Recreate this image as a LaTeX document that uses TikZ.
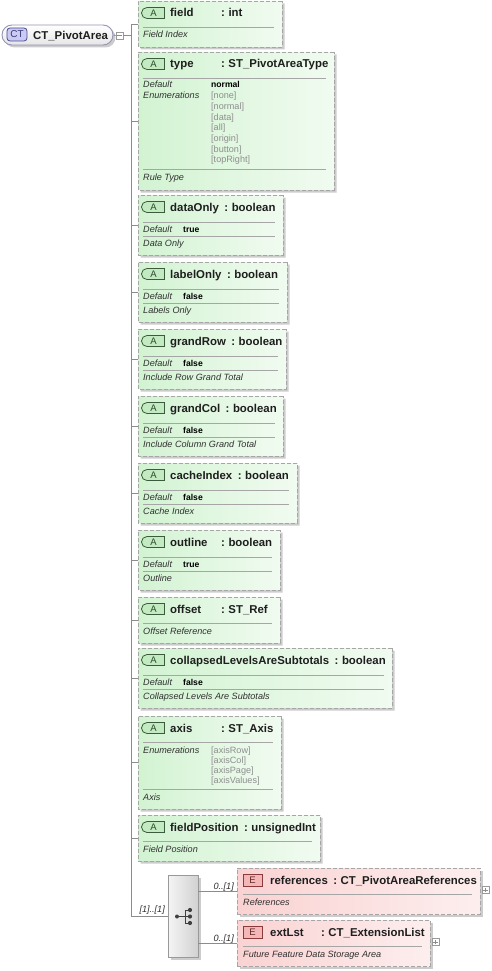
\documentclass[tikz,border=0pt]{standalone}
\usepackage{fontspec}
\setmainfont{Liberation Sans}
\usetikzlibrary{shapes.misc,shadows}

\definecolor{connc}{HTML}{8C8C8C}
\definecolor{bordc}{HTML}{A6A6A6}
\definecolor{agL}{HTML}{D2F3D2}
\definecolor{agR}{HTML}{F1FBF1}
\definecolor{abF}{HTML}{C2EBC2}
\definecolor{abD}{HTML}{3C5A3C}
\definecolor{epL}{HTML}{FAD2D2}
\definecolor{epR}{HTML}{FDEEEE}
\definecolor{ebF}{HTML}{F4B6B6}
\definecolor{ebD}{HTML}{8A3A3A}
\definecolor{ctF}{HTML}{CACAF2}
\definecolor{ctD}{HTML}{4A4A96}
\definecolor{ctB}{HTML}{9494B4}
\definecolor{enumc}{HTML}{8E8E8E}
\definecolor{txtc}{HTML}{1E1E1E}
\definecolor{dtxt}{HTML}{303030}

\tikzset{
  conn/.style={draw=connc, line width=0.9pt},
  sepl/.style={draw=bordc, line width=0.8pt},
  shad/.style={drop shadow={shadow xshift=2.5pt, shadow yshift=-2.5pt, fill=black, opacity=0.2}},
  attr/.style={chamfered rectangle, chamfered rectangle corners={north west,south west},
    chamfered rectangle sep=4pt, inner sep=0pt, draw=bordc, line width=0.9pt,
    dash pattern=on 4pt off 2pt, left color=agL, right color=agR, shad},
  elem/.style={rectangle, inner sep=0pt, draw=bordc, line width=0.9pt,
    dash pattern=on 4pt off 2pt, left color=epL, right color=epR, shad},
  seqbox/.style={rectangle, inner sep=0pt, draw=black!40, line width=0.8pt,
    left color=black!4, right color=black!18, shad},
  ctnode/.style={rectangle, rounded corners=10pt, inner sep=0pt, draw=ctB, line width=0.9pt,
    top color=white, bottom color=black!10, shad},
  ctbadge/.style={rectangle, rounded corners=3pt, minimum width=20pt, minimum height=13pt,
    inner sep=0pt, draw=ctD, line width=0.8pt, fill=ctF, text=ctD!80!black,
    font=\fontsize{10}{11}\selectfont},
  abadge/.style={rounded rectangle, rounded rectangle right arc=none, minimum width=23pt,
    minimum height=11pt, inner sep=0pt, draw=abD, line width=0.8pt, fill=abF,
    text=abD!80!black, font=\fontsize{9.5}{10}\selectfont},
  ebadge/.style={rectangle, minimum width=19pt, minimum height=12pt, inner sep=0pt,
    draw=ebD, line width=0.8pt, fill=ebF, text=ebD!70!black, font=\fontsize{9.5}{10}\selectfont},
  expbox/.style={rectangle, minimum size=7pt, inner sep=0pt, draw=black!40, fill=white, line width=0.7pt},
  ttext/.style={anchor=base west, inner sep=0pt, text=txtc, font=\fontsize{11.4}{13}\selectfont\bfseries},
  itext/.style={anchor=base west, inner sep=0pt, text=dtxt, font=\fontsize{9.1}{10}\selectfont\itshape},
  btext/.style={anchor=base west, inner sep=0pt, text=black, font=\fontsize{8.6}{10}\selectfont\bfseries},
  etext/.style={anchor=base west, inner sep=0pt, text=enumc, font=\fontsize{9.1}{10}\selectfont},
  icon/.style={draw=black!75, line width=1pt},
  dotc/.style={fill=black!75},
}

\newcommand\xttl[2]{\sbox0{#1}\ifdim\wd0<45pt\makebox[51pt][l]{#1}\else\usebox0\hspace{5.5pt}\fi:\hspace{3.5pt}#2}

\newcommand\attrdef[7]{%
  \pgfmathsetmacro\bw{#3-138}%
  \pgfmathsetmacro\bx{(138+#3)/2}%
  \node[attr,minimum width=\bw pt,minimum height=60pt] (#1) at (\bx,#2+30) {};
  \draw[conn] (#1.west -| tr) -- (#1.west);
  \node[abadge] (#1-b) at (153.5,#2+12) {A};
  \node[ttext] (#1-t) at (170,#2+16) {\xttl{#4}{#5}};
  \draw[sepl] (143,#2+27) -- (#3-8,#2+27);
  \node[itext] (#1-k) at (143,#2+37) {Default};
  \node[btext] (#1-v) at (183,#2+37) {#6};
  \draw[sepl] (143,#2+41) -- (#3-8,#2+41);
  \node[itext] (#1-d) at (143,#2+51) {#7};
}

\newcommand\attrnd[6]{%
  \pgfmathsetmacro\bw{#3-138}%
  \pgfmathsetmacro\bx{(138+#3)/2}%
  \node[attr,minimum width=\bw pt,minimum height=46pt] (#1) at (\bx,#2+23) {};
  \draw[conn] (#1.west -| tr) -- (#1.west);
  \node[abadge] (#1-b) at (153.5,#2+12) {A};
  \node[ttext] (#1-t) at (170,#2+16) {\xttl{#4}{#5}};
  \draw[sepl] (143,#2+26) -- (#3-8,#2+26);
  \node[itext] (#1-d) at (143,#2+37) {#6};
}

\newcommand\elembox[6]{%
  \pgfmathsetmacro\bw{#3-237}%
  \pgfmathsetmacro\bx{(237+#3)/2}%
  \node[elem,minimum width=\bw pt,minimum height=46pt] (#1) at (\bx,#2+23) {};
  \draw[conn] (#1.west -| seq.east) -- (#1.west);
  \node[ebadge] (#1-b) at (252.5,#2+12) {E};
  \node[ttext] (#1-t) at (270,#2+16) {\xttl{#4}{#5}};
  \draw[sepl] (243,#2+26) -- (#3-8,#2+26);
  \node[itext] (#1-d) at (243,#2+37) {#6};
  \node[expbox] (#1-x) at (#3+5.5,#2+22) {};
  \draw[draw=black!45, line width=0.7pt] ([xshift=1.5pt]#1-x.west) -- ([xshift=-1.5pt]#1-x.east);
  \draw[draw=black!45, line width=0.7pt] ([yshift=1.5pt]#1-x.south) -- ([yshift=-1.5pt]#1-x.north);
  \node[itext, anchor=base east] (#1-m) at (234,#2+21.5) {0..[1]};
}

\begin{document}
\begin{tikzpicture}[x=1pt,y=-1pt]
\fill[white] (0,0) rectangle (491,971);
\useasboundingbox (0,0) rectangle (491,971);

% trunk
\coordinate (tr) at (131,24);
\coordinate (tb) at (131,916);
\draw[conn] (tr) -- (tb);

% root
\node[ctnode, minimum width=111pt, minimum height=20pt] (ct) at (57.5,35) {};
\node[ctbadge] (ctb) at (17,34.5) {CT};
\node[ttext] (ctt) at (33,39.5) {CT\_PivotArea};
\node[expbox] (mn) at (119.5,35.5) {};
\draw[conn] (ct.east) -- (mn.west);
\draw[conn] (mn.east) -- (mn.east -| tr);
\draw[draw=black!45, line width=0.7pt] ([xshift=1.5pt]mn.west) -- ([xshift=-1.5pt]mn.east);

% attributes
\attrnd{field}{1}{282}{field}{int}{Field Index}

% type
\node[attr,minimum width=196pt,minimum height=138pt] (type) at (236,121) {};
\draw[conn] (type.west -| tr) -- (type.west);
\node[abadge] (type-b) at (153.5,64) {A};
\node[ttext] (type-t) at (170,68) {\xttl{type}{ST\_PivotAreaType}};
\draw[sepl] (143,78) -- (326,78);
\node[itext] (type-k) at (143,88) {Default};
\node[btext] (type-v) at (211,88) {normal};
\node[itext] (type-e) at (143,99) {Enumerations};
\node[etext] (type-e1) at (211,99) {[none]};
\node[etext] (type-e2) at (211,109.6) {[normal]};
\node[etext] (type-e3) at (211,120.2) {[data]};
\node[etext] (type-e4) at (211,130.8) {[all]};
\node[etext] (type-e5) at (211,141.4) {[origin]};
\node[etext] (type-e6) at (211,152) {[button]};
\node[etext] (type-e7) at (211,162.6) {[topRight]};
\draw[sepl] (143,169) -- (326,169);
\node[itext] (type-d) at (143,180) {Rule Type};

\attrdef{dataOnly}{195}{283}{dataOnly}{boolean}{true}{Data Only}
\attrdef{labelOnly}{262}{287}{labelOnly}{boolean}{false}{Labels Only}
\attrdef{grandRow}{329}{286}{grandRow}{boolean}{false}{Include Row Grand Total}
\attrdef{grandCol}{396}{283}{grandCol}{boolean}{false}{Include Column Grand Total}
\attrdef{cacheIndex}{463}{297}{cacheIndex}{boolean}{false}{Cache Index}
\attrdef{outline}{530}{280}{outline}{boolean}{true}{Outline}
\attrnd{offset}{597}{280}{offset}{ST\_Ref}{Offset Reference}
\attrdef{collapsed}{648}{392}{collapsedLevelsAreSubtotals}{boolean}{false}{Collapsed Levels Are Subtotals}

% axis
\node[attr,minimum width=143pt,minimum height=93pt] (axis) at (209.5,762.5) {};
\draw[conn] (axis.west -| tr) -- (axis.west);
\node[abadge] (axis-b) at (153.5,728) {A};
\node[ttext] (axis-t) at (170,732) {\xttl{axis}{ST\_Axis}};
\draw[sepl] (143,742) -- (273,742);
\node[itext] (axis-e) at (143,753) {Enumerations};
\node[etext] (axis-e1) at (211,753) {[axisRow]};
\node[etext] (axis-e2) at (211,763) {[axisCol]};
\node[etext] (axis-e3) at (211,773) {[axisPage]};
\node[etext] (axis-e4) at (211,783) {[axisValues]};
\draw[sepl] (143,789) -- (273,789);
\node[itext] (axis-d) at (143,800) {Axis};

\attrnd{fieldPosition}{815}{320}{fieldPosition}{unsignedInt}{Field Position}

% sequence
\node[seqbox, minimum width=30pt, minimum height=82pt] (seq) at (183,916) {};
\draw[conn] (tb) -- (seq.west);
\node[itext, anchor=base east] (seqm) at (165,912.5) {[1]..[1]};
\coordinate (sq0) at (177,916.5);
\coordinate (sq1) at (185,916.5);
\coordinate (sqa) at (190,910);
\coordinate (sqb) at (190,916.5);
\coordinate (sqc) at (190,923);
\draw[icon] (sq0) -- (sq1);
\draw[icon] (sq1 |- sqa) -- (sq1 |- sqc);
\draw[icon] (sq1 |- sqa) -- (sqa);
\draw[icon] (sq1) -- (sqb);
\draw[icon] (sq1 |- sqc) -- (sqc);
\fill[dotc] (sq0) circle (2pt);
\fill[dotc] (sqa) circle (2.1pt);
\fill[dotc] (sqb) circle (2.1pt);
\fill[dotc] (sqc) circle (2.1pt);

% elements
\elembox{references}{868}{480}{references}{CT\_PivotAreaReferences}{References}
\elembox{extLst}{920}{430}{extLst}{CT\_ExtensionList}{Future Feature Data Storage Area}

\end{tikzpicture}
\end{document}
